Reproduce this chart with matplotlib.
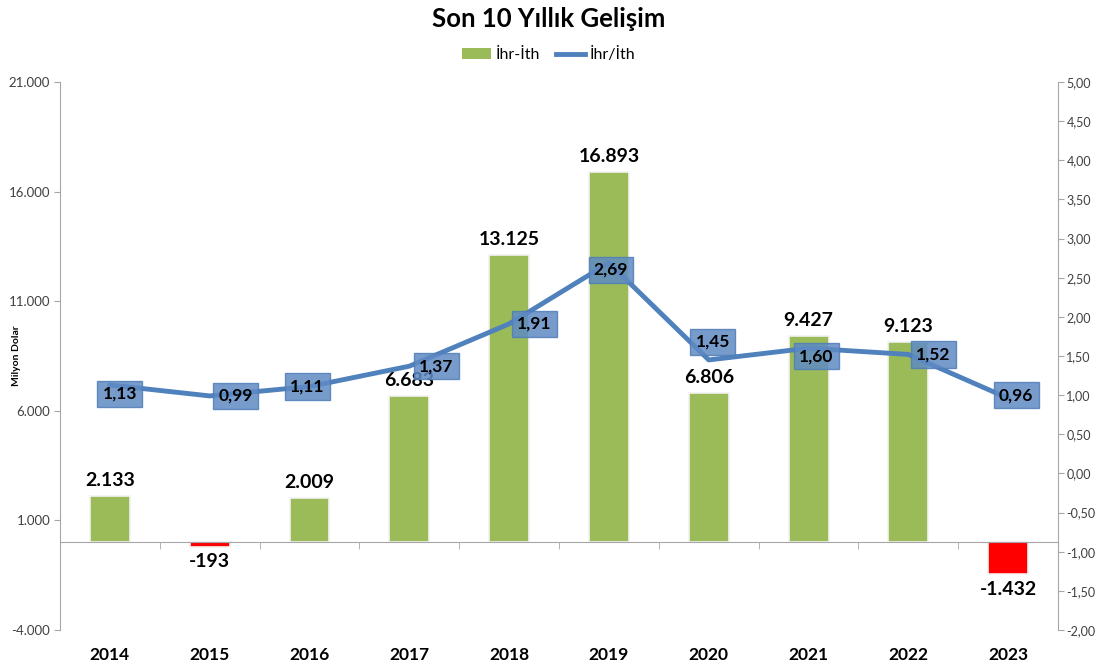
import numpy as np
import matplotlib
matplotlib.use("Agg")
import matplotlib.pyplot as plt
from matplotlib.patches import Patch
from matplotlib.lines import Line2D
import matplotlib.transforms as mtrans

plt.rcParams["font.family"] = ["Lato", "DejaVu Sans"]

# ── Data ─────────────────────────────────────────────────────────────
YEARS  = ["2014", "2015", "2016", "2017", "2018", "2019", "2020", "2021", "2022", "2023"]
NET    = [2133, -193, 2009, 6683, 13125, 16893, 6806, 9427, 9123, -1432]   # İhr-İth (milyon $)
RATIO  = [1.13, 0.99, 1.11, 1.37, 1.91, 2.69, 1.45, 1.60, 1.52, 0.96]      # İhr/İth

# label nudges for the ratio boxes (pixels, as placed in the original)
LABEL_NUDGE = [(10, -9), (26, 0), (-2, 0), (27, 0), (25, 0),
               (2, -7), (4, 18), (8, -8), (25, 0), (8, 3)]

GREEN = "#9BBB59"
RED   = "#FF0000"
BLUE  = "#4F81BD"
GREY  = "#A6A6A6"

def tr_thousands(v):
    return f"{v:,.0f}".replace(",", ".")

def tr_dec(v):
    return f"{v:.2f}".replace(".", ",")

fig = plt.figure(figsize=(10.97, 6.70), dpi=100)
ax = fig.add_axes([0.0547, 0.0597, 0.9098, 0.8179])

x = np.arange(len(YEARS))
colors = [GREEN if v >= 0 else RED for v in NET]
ax.bar(x, NET, width=0.4, color=colors, edgecolor="#F2F2F2", linewidth=1.2, zorder=2)

for xi, v in zip(x, NET):
    if v >= 0:
        ax.annotate(tr_thousands(v), (xi, v), textcoords="offset points", xytext=(0, 5),
                    ha="center", va="bottom", fontsize=14, fontweight="bold")
    else:
        ax.annotate(tr_thousands(v), (xi, v), textcoords="offset points", xytext=(0, -5),
                    ha="center", va="top", fontsize=14, fontweight="bold")

ax.set_xlim(-0.5, len(YEARS) - 0.5)
ax.set_ylim(-4000, 21000)
yt = np.arange(-4000, 21001, 5000)
ax.set_yticks(yt)
ax.set_yticklabels([tr_thousands(v) for v in yt])
ax.tick_params(axis="y", labelsize=9.5, colors="#404040", length=4, color=GREY, pad=3)
ax.set_ylabel("Milyon Dolar", fontsize=7.5, fontweight="bold", labelpad=-9)

# category axis at zero
ax.spines["bottom"].set_position(("data", 0))
ax.spines["bottom"].set_color(GREY)
ax.spines["left"].set_color(GREY)
ax.spines["top"].set_visible(False)
ax.spines["right"].set_visible(False)
ax.set_xticks(x)
ax.set_xticklabels([])
ax.tick_params(axis="x", which="major", length=0)
ax.set_xticks(np.arange(-0.5, len(YEARS), 1.0), minor=True)
ax.tick_params(axis="x", which="minor", length=5, color=GREY, direction="out")

trans = mtrans.blended_transform_factory(ax.transData, ax.transAxes)
for xi, yr in zip(x, YEARS):
    ax.text(xi, -0.045, yr, transform=trans, ha="center", va="center",
            fontsize=12.5, fontweight="bold")

# ── Ratio line ───────────────────────────────────────────────────────
ax2 = ax.twinx()
ax2.plot(x, RATIO, color=BLUE, linewidth=3.5, solid_capstyle="round", zorder=3)
for xi, r, (dx, dy) in zip(x, RATIO, LABEL_NUDGE):
    ax2.annotate(tr_dec(r), (xi, r), textcoords="offset pixels", xytext=(dx, dy),
                 ha="center", va="center", fontsize=12.5, fontweight="bold", zorder=4,
                 bbox=dict(boxstyle="square,pad=0.3", facecolor="#5F8BC4", alpha=0.85,
                           edgecolor="#4F7DB8", linewidth=1))
ax2.set_ylim(-2, 5)
rt = np.arange(-2, 5.01, 0.5)
ax2.set_yticks(rt)
ax2.set_yticklabels([tr_dec(v) for v in rt])
ax2.tick_params(axis="y", labelsize=9, colors="#404040", length=4, color=GREY, pad=2)
for s in ["top", "left", "bottom"]:
    ax2.spines[s].set_visible(False)
ax2.spines["right"].set_color(GREY)

fig.suptitle("Son 10 Yıllık Gelişim", fontsize=18.5, fontweight="bold", y=0.99)
handles = [Patch(facecolor=GREEN, label="İhr-İth"),
           Line2D([0], [0], color=BLUE, linewidth=3.5, label="İhr/İth")]
fig.legend(handles=handles, loc="center", bbox_to_anchor=(0.5, 0.918), ncol=2,
           frameon=False, fontsize=11.5, handlelength=1.8, handleheight=0.7,
           columnspacing=1.0, handletextpad=0.3)

fig.savefig("out.png", dpi=100, facecolor="white")
